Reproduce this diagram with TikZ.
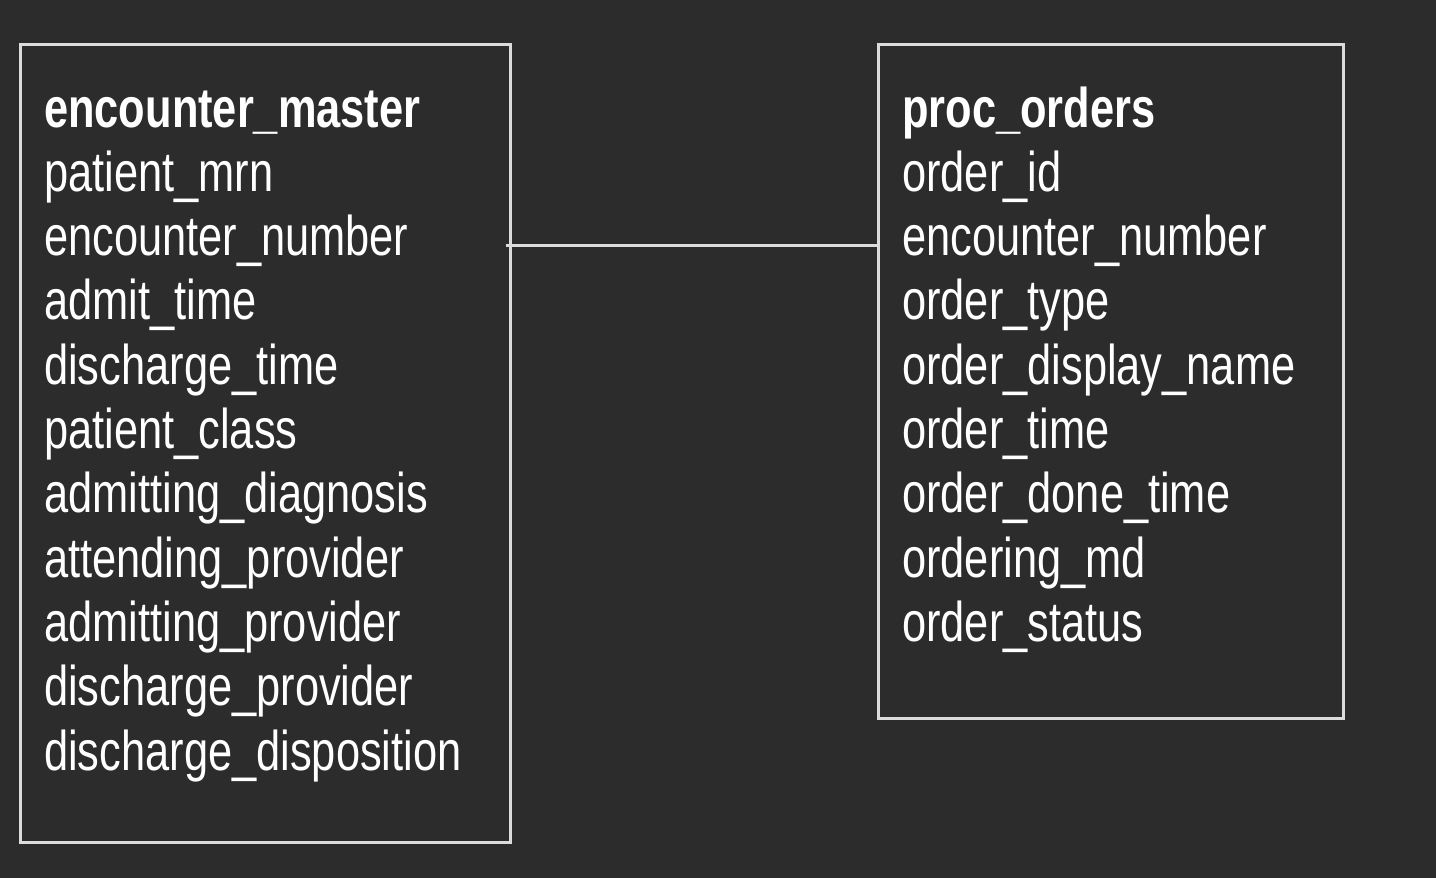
\documentclass[tikz,border=0pt]{standalone}
\usepackage{fontspec}
\setmainfont[FakeStretch=0.775]{Liberation Sans}
\usetikzlibrary{positioning}
\definecolor{bgdark}{HTML}{2C2C2C}
\definecolor{edgegray}{HTML}{DCDCDC}
\tikzset{
  tablebox/.style={draw=edgegray,line width=3pt,inner sep=0pt},
  field/.style={anchor=base west,inner sep=0pt,text=white,font=\fontsize{56}{64}\selectfont},
  tabletitle/.style={field,font=\fontsize{56}{64}\selectfont\bfseries},
}
\begin{document}
\begin{tikzpicture}[x=1pt,y=-1pt]
                \fill[bgdark] (0,0) rectangle (1436,878);
                \useasboundingbox (0,0) rectangle (1436,878);
                %% encounter_master
                \node[tablebox,minimum width=490pt,minimum height=798pt] (embox) at (265,443) {};
                \node[tabletitle] (emtitle) at (44,127) {encounter\_master};
                \foreach \fname [count=\i] in {patient\_mrn,encounter\_number,admit\_time,discharge\_time,patient\_class,admitting\_diagnosis,attending\_provider,admitting\_provider,discharge\_provider,discharge\_disposition}
                    \node[field] (em\i) at (44,127+64.3*\i) {\fname};
                %% proc_orders
                \node[tablebox,minimum width=465pt,minimum height=674pt] (pobox) at (1110.5,381) {};
                \node[tabletitle] (potitle) at (902,127) {proc\_orders};
                \foreach \fname [count=\i] in {order\_id,encounter\_number,order\_type,order\_display\_name,order\_time,order\_done\_time,ordering\_md,order\_status}
                    \node[field] (po\i) at (902,127+64.3*\i) {\fname};
                %% link
                \coordinate (emlink) at ([xshift=-6pt]embox.east |- 0,245.5);
                \draw[edgegray,line width=3pt] (emlink) -- (pobox.west |- emlink);
            \end{tikzpicture}
\end{document}
